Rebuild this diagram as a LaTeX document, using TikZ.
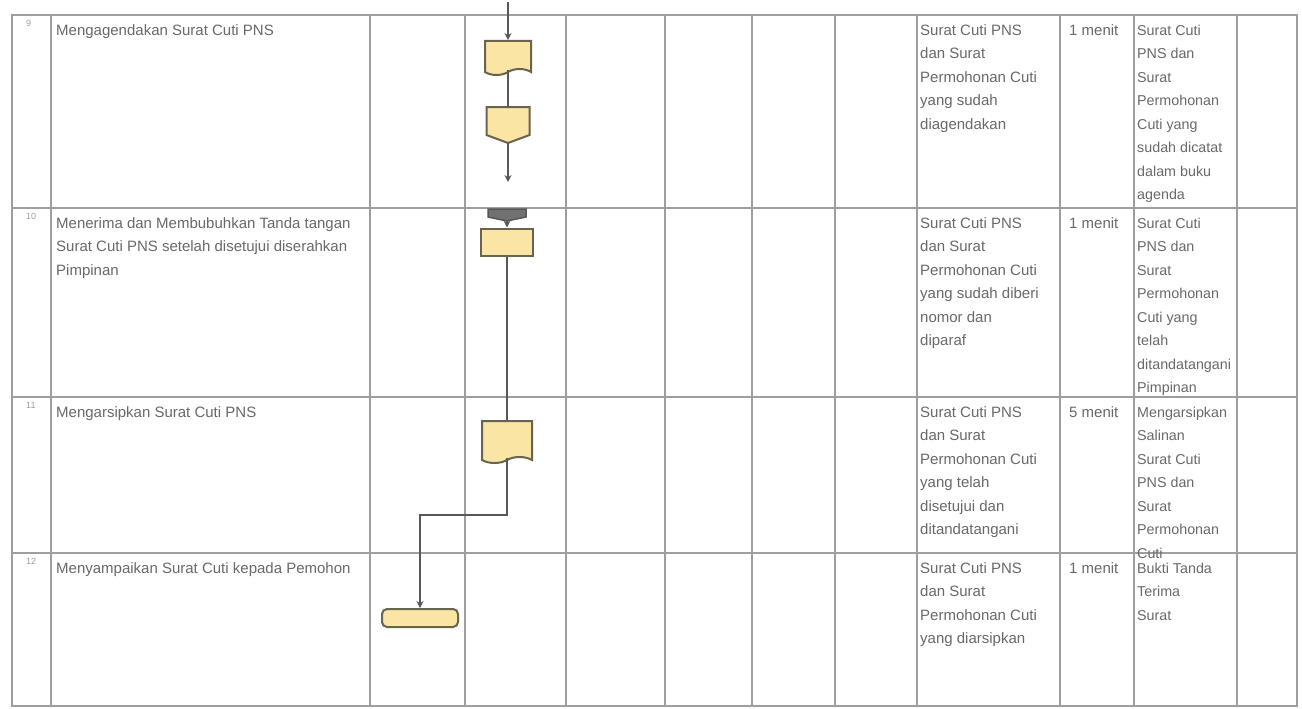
\documentclass[tikz,border=0pt]{standalone}
\usepackage{fontspec}
\setmainfont{Liberation Sans}
\usetikzlibrary{shapes.symbols,arrows.meta,calc}
\definecolor{gridc}{RGB}{158,158,158}
\definecolor{txt}{RGB}{105,105,105}
\definecolor{shfill}{RGB}{250,229,165}
\definecolor{shdraw}{RGB}{105,100,78}
\definecolor{conn}{RGB}{88,88,88}
\newcommand{\tst}{\rule{0pt}{11pt}}
\begin{document}
\begin{tikzpicture}[x=1pt,y=-1pt,
  gridline/.style={draw=gridc,line width=2pt},
  cell/.style={anchor=north west,inner sep=0pt,align=left,text=txt,font=\fontsize{15}{23.5}\selectfont},
  ocell/.style={cell,font=\fontsize{14.3}{23.5}\selectfont},
  numcell/.style={anchor=north west,inner sep=0pt,text=gridc,font=\fontsize{9}{11}\selectfont},
  flowshape/.style={draw=shdraw,fill=shfill,line width=2pt,inner sep=0pt},
  docshape/.style={flowshape,tape,tape bend top=none,tape bend height=6pt},
  holder/.style={inner sep=0pt,outer sep=0pt,draw=none},
  conn/.style={draw=conn,line width=2.5pt},
  tip/.style={-{Stealth[length=7pt,width=7pt]}}
]
\useasboundingbox (0,0) rectangle (1302,709);
\fill[white] (0,0) rectangle (1302,709);

% table grid
\foreach \x in {12,51,370,465,566,665,752,835,917,1060,1134,1237,1297}
  \draw[gridline] (\x,15) -- (\x,706);
\foreach \y in {15,208,397,553,706}
  \draw[gridline] (11,\y) -- (1298,\y);

% row numbers
\node[numcell] (n1) at (26,20) {9};
\node[numcell] (n2) at (26,213) {10};
\node[numcell] (n3) at (26,402) {11};
\node[numcell] (n4) at (26,558) {12};

% activity descriptions
\node[cell] (a1) at (56,24) {\tst Mengagendakan Surat Cuti PNS};
\node[cell] (a2) at (56,217) {\tst Menerima dan Membubuhkan Tanda tangan\\Surat Cuti PNS setelah disetujui diserahkan\\Pimpinan};
\node[cell] (a3) at (56,406) {\tst Mengarsipkan Surat Cuti PNS};
\node[cell] (a4) at (56,562) {\tst Menyampaikan Surat Cuti kepada Pemohon};

% kelengkapan
\node[cell] (k1) at (920,24) {\tst Surat Cuti PNS\\dan Surat\\Permohonan Cuti\\yang sudah\\diagendakan};
\node[cell] (k2) at (920,217) {\tst Surat Cuti PNS\\dan Surat\\Permohonan Cuti\\yang sudah diberi\\nomor dan\\diparaf};
\node[cell] (k3) at (920,406) {\tst Surat Cuti PNS\\dan Surat\\Permohonan Cuti\\yang telah\\disetujui dan\\ditandatangani};
\node[cell] (k4) at (920,562) {\tst Surat Cuti PNS\\dan Surat\\Permohonan Cuti\\yang diarsipkan};

% waktu
\node[cell] (w1) at (1069,24) {\tst 1 menit};
\node[cell] (w2) at (1069,217) {\tst 1 menit};
\node[cell] (w3) at (1069,406) {\tst 5 menit};
\node[cell] (w4) at (1069,562) {\tst 1 menit};

% output
\node[ocell] (o1) at (1137,24) {\tst Surat Cuti\\PNS dan\\Surat\\Permohonan\\Cuti yang\\sudah dicatat\\dalam buku\\agenda};
\node[ocell] (o2) at (1137,217) {\tst Surat Cuti\\PNS dan\\Surat\\Permohonan\\Cuti yang\\telah\\ditandatangani\\Pimpinan};
\node[ocell] (o3) at (1137,406) {\tst Mengarsipkan\\Salinan\\Surat Cuti\\PNS dan\\Surat\\Permohonan\\Cuti};
\node[ocell] (o4) at (1137,562) {\tst Bukti Tanda\\Terima\\Surat};

% flowchart symbols
\node[docshape,minimum width=46pt,minimum height=34pt] (d1) at (508,55) {};
\node[holder,minimum width=43pt,minimum height=36pt] (s2) at (508,125) {};
\draw[flowshape] (s2.north west) -- (s2.north east) -- ([yshift=8pt]s2.south east)
  -- (s2.south) -- ([yshift=8pt]s2.south west) -- cycle;
\node[holder,minimum width=38pt,minimum height=12pt] (c2) at (507,215) {};
\draw[draw=conn,fill=conn!85!white,line width=1.5pt] (c2.north west) -- (c2.north east)
  -- ([yshift=4pt]c2.south east) -- (c2.south) -- ([yshift=4pt]c2.south west) -- cycle;
\node[flowshape,rectangle,minimum width=52pt,minimum height=27pt] (r2) at (507,242) {};
\node[docshape,minimum width=50pt,minimum height=42pt] (d3) at (507,439) {};
\node[flowshape,rectangle,rounded corners=5pt,minimum width=76pt,minimum height=18pt] (t4) at (420,618) {};

% connectors
\coordinate (in1) at (508,2);
\coordinate (out1) at (508,182);
\coordinate (bend) at (507,515);
\draw[conn,tip] (in1) -- (d1.north);
\draw[conn] (d1.south) -- (s2.north);
\draw[conn,tip] (s2.south) -- (out1);
\draw[conn,tip] (c2.south) -- (r2.north);
\draw[conn] (r2.south) -- (d3.north);
\draw[conn,tip] (d3.south) -- (d3.south |- bend) -| (t4.north);
\end{tikzpicture}
\end{document}
